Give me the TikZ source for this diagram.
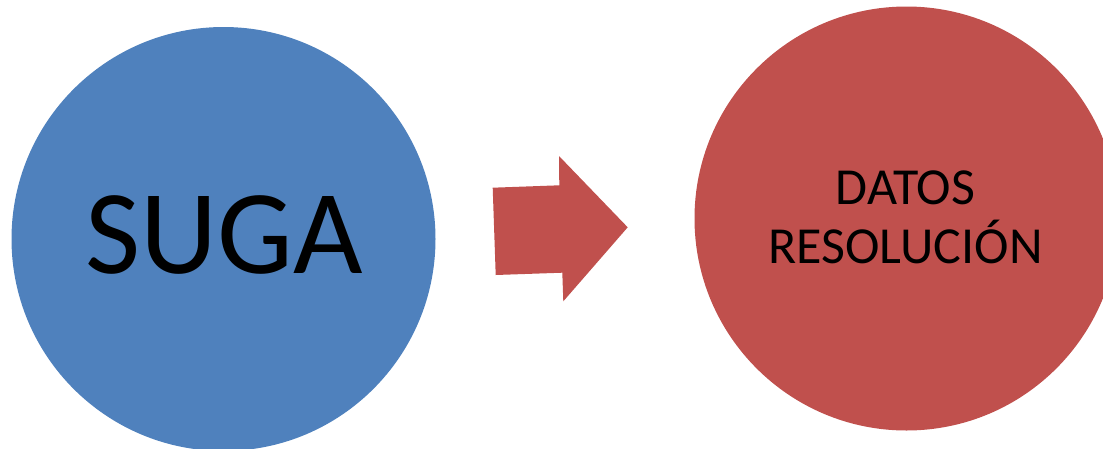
\documentclass[tikz,border=0pt]{standalone}
\usepackage{fontspec}
\setmainfont{Carlito}
\usepackage{xcolor}
\usetikzlibrary{calc}

\definecolor{sugablue}{HTML}{4F81BD}
\definecolor{datosred}{HTML}{C0504D}

\begin{document}
\begin{tikzpicture}[x = 1pt, y = -1pt]
		\useasboundingbox (0,0) rectangle (1103,448);
		
		\def\r{212};
		
		\tikzset{
			bubble/.style = {circle, minimum size = {2*\r}, inner sep = 0pt},
			bubble text/.style = {text = black, align = center}
		}
		
		\coordinate (suga centre) at (223.5,239);
		\coordinate (datos centre) at (906.5,218.5);
		
		\node (suga) [bubble, fill = sugablue] at (suga centre) {};
		\node (datos) [bubble, fill = datosred] at (datos centre) {};
		
		%texts
		\node (suga text) [bubble text, font = \fontsize{120}{120}\selectfont] at ($ (suga centre) + (1,-4.3) $) {SUGA};
		\node (datos text) [bubble text, font = \fontsize{52}{59.3}\selectfont] at ($ (datos centre) + (-1,-1) $) {DATOS\\RESOLUCIÓN};
		
		%arrow
		\coordinate (tail top) at (492.7,187.7);
		\coordinate (neck top) at (559.3,185.3);
		\coordinate (head top) at (559,156);
		\coordinate (tip) at (627.7,227.3);
		\coordinate (head bottom) at (563.3,301.3);
		\coordinate (neck bottom) at (562.3,272.7);
		\coordinate (tail bottom) at (495.7,275);
		
		\fill [datosred] (tail top) -- (neck top) -- (head top) -- (tip) -- (head bottom) -- (neck bottom) -- (tail bottom) -- cycle;
	\end{tikzpicture}
\end{document}
